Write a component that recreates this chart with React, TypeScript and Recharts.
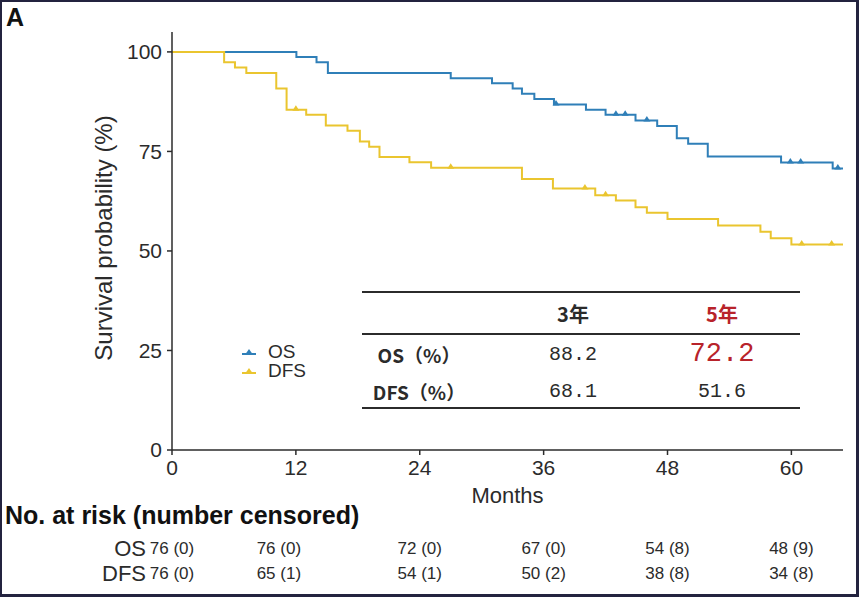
import React from "react";
import { ComposedChart, Line, Scatter, XAxis, YAxis } from "recharts";

// Kaplan-Meier steps: [month, survival %]
const osSteps: Array<[number, number]> = [
  [0, 100], [12.05, 98.7], [14, 97.4], [15.1, 94.7], [27, 93.4], [31, 92.1],
  [33, 90.8], [33.9, 89.5], [35.1, 88.2], [37, 86.8], [40.1, 85.5], [42, 84.2],
  [44.9, 82.8], [47, 81.4], [48.9, 78.3], [50, 76.9], [51.9, 73.7], [59, 72.2],
  [64, 70.7], [65, 70.7],
];
const osCensored: Array<[number, number]> = [
  [37.2, 86.8], [43, 84.2], [43.9, 84.2], [46, 82.8], [59.9, 72.2], [60.9, 72.2], [64.5, 70.7],
];
const dfsSteps: Array<[number, number]> = [
  [0, 100], [5.05, 97.4], [6.1, 96.1], [7.2, 94.7], [10.1, 90.8], [11.1, 85.5],
  [13, 84.2], [14.9, 81.5], [17, 80.2], [18.2, 77.5], [19.1, 76.2], [20.1, 73.6],
  [23, 72.3], [25.1, 70.9], [33.9, 68.1], [36.9, 65.7], [41, 64.0], [43, 62.7],
  [44.9, 61.0], [46, 59.6], [48, 58.0], [52.9, 56.4], [57, 54.8], [58, 53.2],
  [60, 51.6], [65, 51.6],
];
const dfsCensored: Array<[number, number]> = [
  [12, 85.5], [27, 70.9], [40, 65.7], [42, 64.0], [61, 51.6], [63.9, 51.6],
];

const xTicks = [0, 12, 24, 36, 48, 60];
const yTicks = [0, 25, 50, 75, 100];

const riskTimes = [0, 12, 24, 36, 48, 60];
const osAtRisk = ["76 (0)", "76 (0)", "72 (0)", "67 (0)", "54 (8)", "48 (9)"];
const dfsAtRisk = ["76 (0)", "65 (1)", "54 (1)", "50 (2)", "38 (8)", "34 (8)"];
// the 12-month column sits a little left of its tick in the original
const riskNudge = [0, -17, 0, 0, 0, 0];

const rateHeader = ["3年", "5年"];
const osRates = ["88.2", "72.2"];
const dfsRates = ["68.1", "51.6"];

const OS_COLOR = "#2f7fb8";
const DFS_COLOR = "#eac52f";
const RED = "#b8232a";
const INK = "#2b2b2b";

const toRows = (pts: Array<[number, number]>) => pts.map(([t, s]) => ({ t, s }));

// plot area, shared by chart margins and the risk table below it
const PLOT_L = 172;
const PLOT_R = 843;
const X_MAX = 65;
const monthX = (m: number) => PLOT_L + (m * (PLOT_R - PLOT_L)) / X_MAX;

const CensorMark = (color: string) => (props: any) => {
  const { cx, cy } = props;
  if (cx == null || cy == null) return <g />;
  return <polygon points={`${cx - 3.5},${cy + 1} ${cx + 3.5},${cy + 1} ${cx},${cy - 4.5}`} fill={color} />;
};

const LegendKey = ({ color }: { color: string }) => (
  <svg width={16} height={10} style={{ display: "block" }}>
    <line x1={1} y1={7} x2={15} y2={7} stroke={color} strokeWidth={2} />
    <polygon points="4.5,7 11.5,7 8,2" fill={color} />
  </svg>
);

const abs = (style: React.CSSProperties): React.CSSProperties => ({ position: "absolute", ...style });

export default function App() {
  const sans = "'Liberation Sans', Arial, sans-serif";
  const cjk = "'Noto Sans CJK SC', sans-serif";
  const mono = "'Liberation Mono', monospace";
  return (
    <div style={{ position: "absolute", left: 0, top: 0, width: 859, height: 597, background: "#fff", fontFamily: sans, color: INK }}>
      <ComposedChart width={859} height={597} margin={{ top: 32, right: 16, bottom: 107, left: 112 }}>
        <XAxis
          type="number"
          dataKey="t"
          domain={[0, X_MAX]}
          ticks={xTicks}
          allowDataOverflow
          height={40}
          tickSize={5}
          tickMargin={5}
          axisLine={{ stroke: INK, strokeWidth: 1.5 }}
          tickLine={{ stroke: INK, strokeWidth: 1.5 }}
          tick={{ fill: INK, fontSize: 21, fontFamily: sans }}
        />
        <YAxis
          type="number"
          dataKey="s"
          domain={[0, 105]}
          ticks={yTicks}
          allowDataOverflow
          width={60}
          tickSize={5}
          tickMargin={5}
          axisLine={{ stroke: INK, strokeWidth: 1.5 }}
          tickLine={{ stroke: INK, strokeWidth: 1.5 }}
          tick={{ fill: INK, fontSize: 21, fontFamily: sans }}
        />
        <Line data={toRows(osSteps)} dataKey="s" type="stepAfter" stroke={OS_COLOR} strokeWidth={2} dot={false} isAnimationActive={false} />
        <Line data={toRows(dfsSteps)} dataKey="s" type="stepAfter" stroke={DFS_COLOR} strokeWidth={2} dot={false} isAnimationActive={false} />
        <Scatter data={toRows(osCensored)} dataKey="s" shape={CensorMark(OS_COLOR)} isAnimationActive={false} />
        <Scatter data={toRows(dfsCensored)} dataKey="s" shape={CensorMark(DFS_COLOR)} isAnimationActive={false} />
      </ComposedChart>

      <div style={abs({ left: 6, top: 3, fontSize: 25, fontWeight: 700, color: "#111" })}>A</div>

      <div style={abs({ left: 104, top: 238, transform: "translate(-50%, -50%) rotate(-90deg)", whiteSpace: "nowrap", fontSize: 24 })}>
        Survival probability (%)
      </div>
      <div style={abs({ left: (PLOT_L + PLOT_R) / 2, top: 496, transform: "translate(-50%, -50%)", fontSize: 22 })}>Months</div>

      {/* legend */}
      {[["OS", OS_COLOR, 352], ["DFS", DFS_COLOR, 371]].map(([label, color, y]) => (
        <div key={label as string} style={abs({ left: 241, top: (y as number) - 11, display: "flex", alignItems: "center", gap: 11, fontSize: 19, lineHeight: "22px" })}>
          <LegendKey color={color as string} />
          <span>{label}</span>
        </div>
      ))}

      {/* inset 3/5-year table */}
      {[292, 334, 408].map((y) => (
        <div key={y} style={abs({ left: 362, top: y - 1, width: 438, height: 2, background: INK })} />
      ))}
      {rateHeader.map((h, i) => (
        <div key={h} style={abs({ left: 573 + i * 149, top: 313, transform: "translate(-50%, -50%)", fontFamily: cjk, fontWeight: 700, fontSize: 20, color: i === 1 ? RED : INK })}>{h}</div>
      ))}
      {[["OS（%）", osRates, 354], ["DFS（%）", dfsRates, 391]].map(([label, vals, y]) => (
        <React.Fragment key={label as string}>
          <div style={abs({ left: 419, top: y as number, transform: "translate(-50%, -50%)", fontFamily: cjk, fontWeight: 700, fontSize: 19, whiteSpace: "nowrap" })}>{label as string}</div>
          {(vals as string[]).map((v, i) => {
            const big = label === "OS（%）" && i === 1;
            return (
              <div key={i} style={abs({ left: 573 + i * 149, top: y as number, transform: "translate(-50%, -50%)", fontFamily: mono, fontSize: big ? 27 : 20, color: big ? RED : INK })}>{v}</div>
            );
          })}
        </React.Fragment>
      ))}

      {/* risk table */}
      <div style={abs({ left: 5, top: 515, transform: "translateY(-50%)", fontSize: 25, fontWeight: 700, whiteSpace: "nowrap", color: "#111" })}>
        No. at risk (number censored)
      </div>
      {[["OS", osAtRisk, 549], ["DFS", dfsAtRisk, 574]].map(([label, vals, y]) => (
        <React.Fragment key={label as string}>
          <div style={abs({ right: 859 - 146, top: y as number, transform: "translateY(-50%)", fontSize: 22 })}>{label as string}</div>
          {(vals as string[]).map((v, i) => (
            <div key={i} style={abs({ left: monthX(riskTimes[i]) + riskNudge[i], top: y as number, transform: "translate(-50%, -50%)", fontSize: 17, whiteSpace: "nowrap" })}>{v}</div>
          ))}
        </React.Fragment>
      ))}

      <div style={abs({ left: 0, top: 0, width: 859, height: 597, boxSizing: "border-box", borderStyle: "solid", borderColor: "#23233f", borderWidth: "2px 3px 3px 2px", pointerEvents: "none" })} />
    </div>
  );
}
